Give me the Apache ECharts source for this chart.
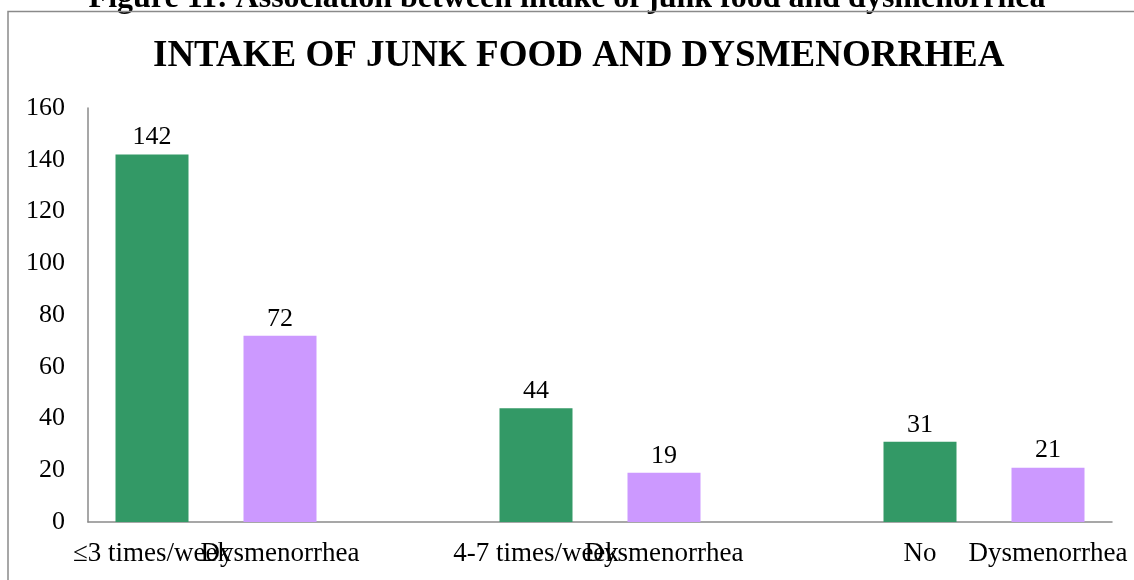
<!DOCTYPE html>
<html>
<head>
<meta charset="utf-8">
<title>Intake of junk food and dysmenorrhea</title>
<script src="https://cdn.jsdelivr.net/npm/echarts@6/dist/echarts.min.js"></script>
<style>
  html, body { margin: 0; padding: 0; background: #fff; }
  #chart { width: 1134px; height: 580px; }
</style>
</head>
<body>
<div id="chart"></div>
<script>
// Category slots along the x axis; blank slots separate the three groups.
const categories = ['≤3 times/week', 'Dysmenorrhea', '', '4-7 times/week', 'Dysmenorrhea', '', 'No', 'Dysmenorrhea'];
// Counts per slot (null for the blank spacer slots).
const counts = [142, 72, null, 44, 19, null, 31, 21];
// Y axis range and step.
const yMin = 0;
const yMax = 160;
const yStep = 20;

const captionText = 'Figure 11: Association between intake of junk food and dysmenorrhea';
const titleText = 'INTAKE OF JUNK FOOD AND DYSMENORRHEA';

const GREEN = '#339966';
const PURPLE = '#CC99FF';
const SERIF = '"Liberation Serif", "Times New Roman", "DejaVu Serif", serif';

const chart = echarts.init(document.getElementById('chart'), null, { renderer: 'canvas' });

chart.setOption({
  backgroundColor: '#ffffff',
  animation: false,
  title: {
    text: titleText,
    left: 153,
    top: 36,
    padding: 0,
    textStyle: {
      fontFamily: SERIF,
      fontWeight: 'bold',
      fontSize: 37,
      lineHeight: 40,
      color: '#000000'
    }
  },
  graphic: [
    {
      // figure caption above the chart box (partly cut by the page edge)
      type: 'text',
      left: 'center',
      top: -17,
      style: {
        text: captionText,
        font: 'bold 32px ' + SERIF,
        fill: '#000000'
      },
      z: 10
    },
    {
      // chart box outline
      type: 'polyline',
      shape: { points: [[8, 580], [8, 11.5], [1134, 11.5]] },
      style: { stroke: '#8a8a8a', lineWidth: 1.5, fill: null },
      z: 11
    }
  ],
  grid: {
    left: 88,
    right: 22,
    top: 108,
    bottom: 58,
    containLabel: false
  },
  xAxis: {
    type: 'category',
    data: categories,
    axisLine: { show: true, lineStyle: { color: '#8a8a8a', width: 1.5 } },
    axisTick: { show: false },
    axisLabel: {
      interval: 0,
      margin: 18,
      fontFamily: SERIF,
      fontSize: 27,
      color: '#000000'
    },
    splitLine: { show: false }
  },
  yAxis: {
    type: 'value',
    min: yMin,
    max: yMax,
    interval: yStep,
    axisLine: { show: true, lineStyle: { color: '#8a8a8a', width: 1.5 } },
    axisTick: { show: false },
    axisLabel: {
      margin: 23,
      fontFamily: SERIF,
      fontSize: 26,
      color: '#000000'
    },
    splitLine: { show: false }
  },
  series: [
    {
      type: 'bar',
      data: counts,
      barWidth: 73,
      itemStyle: {
        color: (p) => (categories[p.dataIndex] === 'Dysmenorrhea' ? PURPLE : GREEN)
      },
      label: {
        show: true,
        position: 'top',
        distance: 4,
        fontFamily: SERIF,
        fontSize: 26,
        color: '#000000'
      }
    }
  ]
});
</script>
</body>
</html>
